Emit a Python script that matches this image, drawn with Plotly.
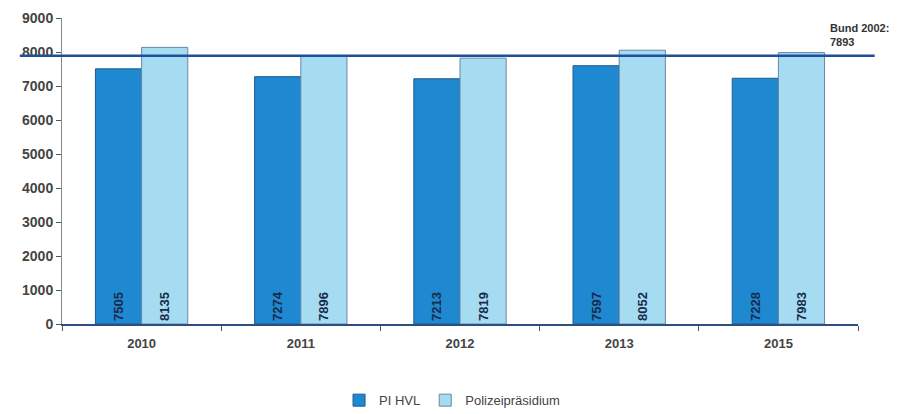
import plotly.graph_objects as go

years = ["2010", "2011", "2012", "2013", "2015"]
pi_hvl = [7505, 7274, 7213, 7597, 7228]
polizei = [8135, 7896, 7819, 8052, 7983]
bund_value = 7893
bund_label = "Bund 2002:<br>7893"
y_ticks = [0, 1000, 2000, 3000, 4000, 5000, 6000, 7000, 8000, 9000]

fig = go.Figure()
fig.add_trace(go.Bar(
    x=years, y=pi_hvl, name="PI HVL",
    marker=dict(color="#1E88D0", line=dict(color="#1d5a90", width=1)),
    text=["<b>" + str(v) + "</b>" for v in pi_hvl], textposition="inside", insidetextanchor="start",
    textangle=-90, textfont=dict(family="Arial", size=13, color="#1a2a4a"),
))
fig.add_trace(go.Bar(
    x=years, y=polizei, name="Polizeipräsidium",
    marker=dict(color="#A6DCF2", line=dict(color="#6a86a8", width=1)),
    text=["<b>" + str(v) + "</b>" for v in polizei], textposition="inside", insidetextanchor="start",
    textangle=-90, textfont=dict(family="Arial", size=13, color="#1a2a4a"),
))

fig.add_shape(type="line", xref="paper", yref="y",
              x0=-0.053, x1=1.021, y0=bund_value, y1=bund_value,
              line=dict(color="#1d4f9a", width=2.5), layer="above")
fig.add_annotation(xref="paper", yref="y", x=0.962, y=bund_value + 160,
                   text="<b>" + bund_label + "</b>", showarrow=False,
                   xanchor="left", yanchor="bottom", align="left",
                   font=dict(family="Arial", size=11, color="#333333"))

fig.update_layout(
    width=904, height=414,
    margin=dict(l=62, r=46, t=18, b=90, autoexpand=False),
    paper_bgcolor="white", plot_bgcolor="white",
    barmode="group", bargap=0.42, bargroupgap=0,
    font=dict(family="Arial", size=12, color="#333333"),
    showlegend=True,
    legend=dict(orientation="h", x=0.49, xanchor="center", y=-0.2, yanchor="top",
                font=dict(family="Arial", size=13, color="#444444"),
                itemwidth=30, traceorder="normal", tracegroupgap=0),
    uniformtext=dict(mode=False),
)
fig.update_yaxes(range=[0, 9000], tickvals=y_ticks, showgrid=False,
                 showline=True, linecolor="#888888", linewidth=1,
                 ticks="outside", ticklen=5, tickcolor="#555555",
                 tickfont=dict(family="Arial", size=14, color="#444444", weight="bold"),
                 zeroline=False, automargin=False)
fig.update_xaxes(showline=True, linecolor="#2a4f80", linewidth=2,
                 ticks="outside", tickson="boundaries", ticklen=5, tickcolor="#555555",
                 tickfont=dict(family="Arial", size=13, color="#444444", weight="bold"),
                 ticklabelstandoff=6,
                 showgrid=False, automargin=False)

fig.write_html("out.html", config={"displayModeBar": False},
               post_script="document.body.style.margin='0';document.body.style.overflow='hidden';")
